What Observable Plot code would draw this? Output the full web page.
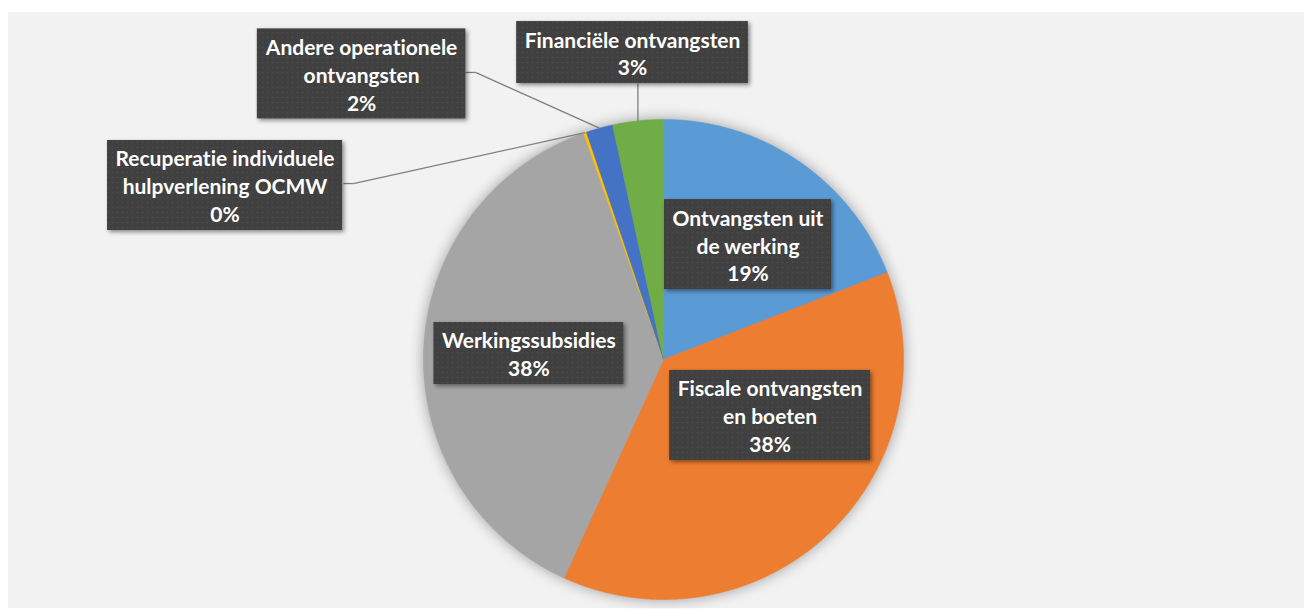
<!DOCTYPE html>
<html><head><meta charset="utf-8">
<script src="https://cdn.jsdelivr.net/npm/d3@7"></script>
<script src="https://cdn.jsdelivr.net/npm/@observablehq/plot@0.6"></script>
<style>
html,body{margin:0;padding:0;background:#fff;}
#bg{position:absolute;left:8px;top:12px;width:1296px;height:596px;background:#F2F2F2;}
#chart{position:absolute;left:0;top:0;width:1304px;height:609px;}
#chart svg{overflow:visible;}
#chart text{font-variant-ligatures:none;font-feature-settings:"liga" 0,"clig" 0;}
</style></head><body><div id="bg"></div><div id="chart"></div>
<script>
// ---- data ----
const categories = ["Ontvangsten uit de werking","Fiscale ontvangsten en boeten","Werkingssubsidies","Recuperatie individuele hulpverlening OCMW","Andere operationele ontvangsten","Financiële ontvangsten"];
const shares = [19.1, 37.7, 37.8, 0.2, 1.8, 3.4];
const percentLabels = ["19%","38%","38%","0%","2%","3%"];
const colors = ["#5B9BD5","#ED7D31","#A5A5A5","#FFC000","#4472C4","#70AD47"];
const labelLines = [["Ontvangsten uit","de werking"],["Fiscale ontvangsten","en boeten"],["Werkingssubsidies"],["Recuperatie individuele","hulpverlening OCMW"],["Andere operationele","ontvangsten"],["Financiële ontvangsten"]];
// label positions (pie radius units)
const labelX = [0.352, 0.444, -0.561, -1.827, -1.258, -0.129];
const labelY = [0.479, -0.233, 0.025, 0.725, 1.190, 1.279];
// leader line start & elbow (pie radius units), null = no leader
const leaderStartX = [null, null, null, -1.333, -0.825, null];
const leaderStartY = [null, null, null, 0.733, 1.196, 1.15];
const leaderElbowX = [null, null, null, -1.292, -0.783, null];
const leaderElbowY = [null, null, null, 0.733, 1.196, null];

// ---- geometry from data ----
const arcs = d3.pie().sort(null).value(d => d)(shares);
const wedgePts = [];
arcs.forEach((a, i) => {
  const cat = categories[i];
  wedgePts.push({cat, x: 0, y: 0});
  const n = Math.max(2, Math.ceil((a.endAngle - a.startAngle) / 0.005));
  for (let k = 0; k <= n; k++) {
    const t = a.startAngle + (a.endAngle - a.startAngle) * k / n;
    wedgePts.push({cat, x: Math.sin(t), y: Math.cos(t)});
  }
  wedgePts.push({cat, x: 0, y: 0});
});
const links = [];
arcs.forEach((a, i) => {
  if (leaderStartY[i] == null) return;
  const m = (a.startAngle + a.endAngle) / 2;
  const ex = Math.sin(m), ey = Math.cos(m);
  const sx = leaderStartX[i] == null ? ex : leaderStartX[i];
  const sy = leaderStartY[i];
  if (leaderElbowX[i] != null) {
    links.push({x1: sx, y1: sy, x2: leaderElbowX[i], y2: leaderElbowY[i]});
    links.push({x1: leaderElbowX[i], y1: leaderElbowY[i], x2: ex, y2: ey});
  } else {
    links.push({x1: sx, y1: sy, x2: ex, y2: ey});
  }
});
const labels = categories.map((c, i) => ({cat: c, x: labelX[i], y: labelY[i], text: labelLines[i].join("\n") + "\n" + percentLabels[i], n: labelLines[i].length + 1}));

const FS = 21, LH = 28;
const chart = Plot.plot({
  width: 1304, height: 609,
  marginLeft: 423, marginRight: 401, marginTop: 119, marginBottom: 10,
  x: {domain: [-1, 1], axis: null},
  y: {domain: [-1, 1], axis: null},
  color: {domain: categories, range: colors},
  style: {background: "transparent", overflow: "visible"},
  marks: [
    Plot.line(wedgePts, {x: "x", y: "y", z: "cat", fill: "cat", stroke: "cat", strokeWidth: 0.6, curve: "linear"}),
    Plot.link(links, {x1: "x1", y1: "y1", x2: "x2", y2: "y2", stroke: "#7f7f7f", strokeWidth: 1.3}),
    Plot.text(labels, {x: "x", y: "y", dy: 0, text: "text", fill: "white", fontWeight: "bold", fontSize: FS, lineHeight: LH / FS, fontFamily: "Lato"})
  ]
});
document.getElementById("chart").append(chart);

// pattern + shadows
const NS = "http://www.w3.org/2000/svg";
const defs = document.createElementNS(NS, "defs");
defs.innerHTML = `<pattern id="dots" width="5" height="5" patternUnits="userSpaceOnUse"><rect width="5" height="5" fill="#404040"/><circle cx="2.5" cy="2.5" r="0.8" fill="#4e4e4e"/></pattern>`;
chart.prepend(defs);
const pieG = chart.querySelector('g[aria-label="line"]');
pieG.style.filter = "drop-shadow(0 0 7px rgba(0,0,0,0.35))";
const textG = chart.querySelector('g[aria-label="text"]');
const boxG = document.createElementNS(NS, "g");
boxG.style.filter = "drop-shadow(2px 2px 2px rgba(0,0,0,0.45))";
textG.parentNode.insertBefore(boxG, textG);
const xs = chart.scale("x"), ys = chart.scale("y");
textG.querySelectorAll("text").forEach((t, i) => {
  const bb = t.getBBox();
  const d = labels[i];
  const cx = xs.apply(d.x);
  const cy = ys.apply(d.y);
  const w = bb.width + 16, h = d.n * LH + 6;
  const r = document.createElementNS(NS, "rect");
  r.setAttribute("x", cx - w / 2); r.setAttribute("y", cy - h / 2);
  r.setAttribute("width", w); r.setAttribute("height", h);
  r.setAttribute("fill", "url(#dots)");
  boxG.append(r);
});
</script></body></html>
